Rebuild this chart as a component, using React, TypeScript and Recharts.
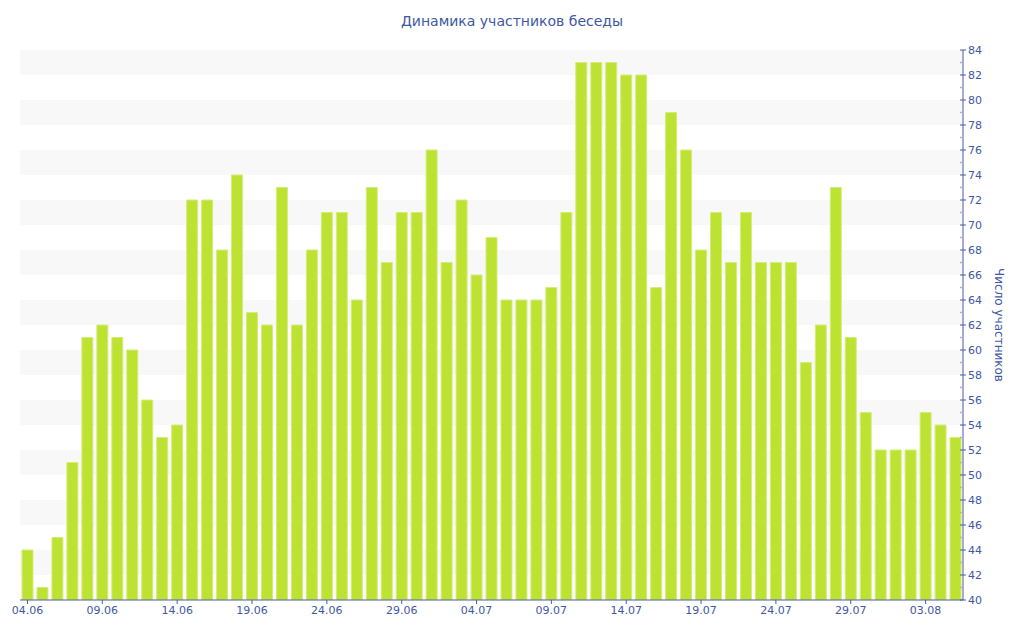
import React from 'react';
import { BarChart, Bar, XAxis, YAxis, CartesianGrid } from 'recharts';

const dates = [
  '04.06','05.06','06.06','07.06','08.06','09.06','10.06','11.06','12.06','13.06',
  '14.06','15.06','16.06','17.06','18.06','19.06','20.06','21.06','22.06','23.06',
  '24.06','25.06','26.06','27.06','28.06','29.06','30.06','01.07','02.07','03.07',
  '04.07','05.07','06.07','07.07','08.07','09.07','10.07','11.07','12.07','13.07',
  '14.07','15.07','16.07','17.07','18.07','19.07','20.07','21.07','22.07','23.07',
  '24.07','25.07','26.07','27.07','28.07','29.07','30.07','31.07','01.08','02.08',
  '03.08','04.08','05.08',
];

const participants = [
  44, 41, 45, 51, 61, 62, 61, 60, 56, 53,
  54, 72, 72, 68, 74, 63, 62, 73, 62, 68,
  71, 71, 64, 73, 67, 71, 71, 76, 67, 72,
  66, 69, 64, 64, 64, 65, 71, 83, 83, 83,
  82, 82, 65, 79, 76, 68, 71, 67, 71, 67,
  67, 67, 59, 62, 73, 61, 55, 52, 52, 52,
  55, 54, 53,
];

const yTicks = [
  40, 41, 42, 43, 44, 45, 46, 47, 48, 49, 50, 51, 52, 53, 54, 55, 56, 57, 58, 59,
  60, 61, 62, 63, 64, 65, 66, 67, 68, 69, 70, 71, 72, 73, 74, 75, 76, 77, 78, 79,
  80, 81, 82, 83, 84,
];

const title = 'Динамика участников беседы';
const yLabel = 'Число участников';

const data = dates.map((d, i) => ({ date: d, value: participants[i] }));

const BLUE = '#3e58a5';
const AXIS = '#4a5ba6';
const FONT = '"DejaVu Sans", Verdana, sans-serif';

const TICK_SIZE = 3;
const TICK_MARGIN = 2;

const YTick = (props: any) => {
  const { x, y, payload } = props;
  const v = payload.value as number;
  const ax = x - TICK_SIZE - TICK_MARGIN;
  const major = v % 2 === 0;
  if (!major) {
    return <line x1={ax - 3} x2={ax} y1={y} y2={y} stroke="#b4b4b4" strokeWidth={1.5} />;
  }
  return (
    <g>
      <line x1={ax - 3} x2={ax + 3} y1={y} y2={y} stroke={AXIS} strokeWidth={1} />
      <text x={x} y={y} dy="0.355em" textAnchor="start" fill={BLUE} fontSize={11} fontFamily={FONT}>
        {v}
      </text>
    </g>
  );
};

const YLabel = (props: any) => {
  const vb = props.viewBox || {};
  const cx = vb.x + 36;
  const cy = vb.y + vb.height / 2;
  return (
    <text
      x={cx}
      y={cy}
      transform={`rotate(90, ${cx}, ${cy})`}
      textAnchor="middle"
      dominantBaseline="central"
      fill={BLUE}
      fontSize={12}
      fontFamily={FONT}
    >
      {yLabel}
    </text>
  );
};

export default function App() {
  return (
    <div style={{ position: 'absolute', left: 0, top: 0, width: 1024, height: 640, background: '#fff' }}>
      <div
        style={{
          position: 'absolute',
          left: 0,
          top: 13,
          width: 1024,
          textAlign: 'center',
          fontFamily: FONT,
          fontSize: 14,
          color: BLUE,
          lineHeight: '17px',
        }}
      >
        {title}
      </div>
      <BarChart
        width={1024}
        height={640}
        data={data}
        margin={{ top: 50, right: 0, bottom: 0, left: 20 }}
        barSize={11}
      >
        <CartesianGrid
          vertical={false}
          horizontal={true}
          stroke="none"
          horizontalFill={['#f8f8f8', '#f8f8f8', '#ffffff', '#ffffff']}
        />
        <XAxis
          dataKey="date"
          interval={4}
          height={40}
          tickSize={4}
          tickMargin={2}
          stroke={AXIS}
          tick={{ fill: BLUE, fontSize: 11, fontFamily: FONT }}
          tickLine={{ stroke: AXIS }}
          axisLine={{ stroke: AXIS }}
        />
        <YAxis
          orientation="right"
          width={61}
          domain={[40, 84]}
          ticks={yTicks}
          interval={0}
          tickSize={TICK_SIZE}
          tickMargin={TICK_MARGIN}
          tickLine={false}
          axisLine={{ stroke: AXIS }}
          tick={<YTick />}
          label={<YLabel />}
          allowDataOverflow
        />
        <Bar
          dataKey="value"
          fill="#bde232"
          stroke="#d3ed7c"
          strokeWidth={1}
          isAnimationActive={false}
        />
      </BarChart>
    </div>
  );
}
